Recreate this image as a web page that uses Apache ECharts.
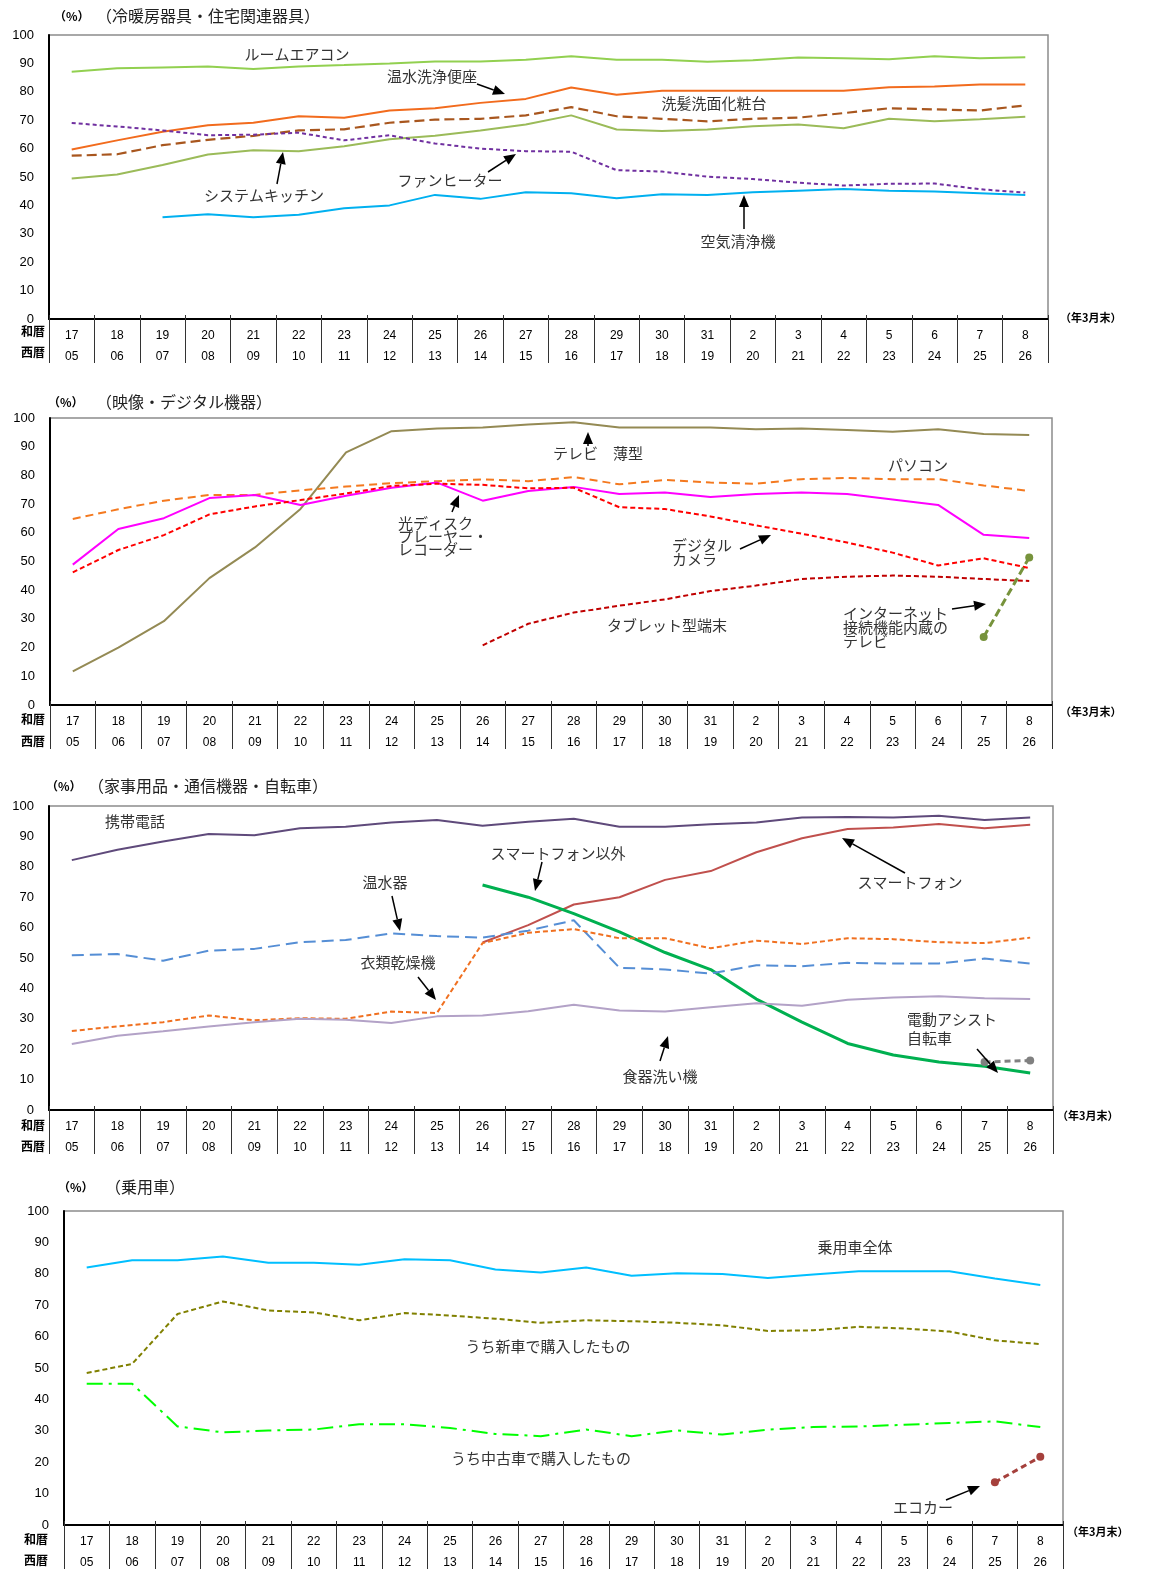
<!DOCTYPE html>
<html><head><meta charset="utf-8">
<script src="https://cdn.jsdelivr.net/npm/echarts@6/dist/echarts.min.js"></script>
<style>html,body{margin:0;padding:0;background:#fff}#c{width:1149px;height:1592px}</style>
</head><body><div id="c"></div>
<script>
// Categories
const wareki = ['17','18','19','20','21','22','23','24','25','26','27','28','29','30','31','2','3','4','5','6','7','8'];
const seireki = ['05','06','07','08','09','10','11','12','13','14','15','16','17','18','19','20','21','22','23','24','25','26'];

// Panel 1 (冷暖房器具・住宅関連器具)
const roomAC   = [87.1,88.3,88.6,88.9,88.0,88.9,89.4,90.0,90.7,90.7,91.3,92.5,91.3,91.3,90.6,91.1,92.1,91.8,91.5,92.5,91.8,92.2];
const washlet  = [59.7,62.9,65.9,68.2,69.1,71.4,70.9,73.4,74.2,76.1,77.5,81.5,79.0,80.4,80.4,80.4,80.4,80.4,81.6,81.9,82.6,82.6];
const vanity   = [57.5,58.0,61.2,63.1,64.5,66.4,66.8,69.1,70.2,70.5,71.7,74.6,71.4,70.5,69.6,70.5,70.9,72.5,74.2,73.8,73.4,75.2];
const kitchen  = [49.5,50.9,54.2,57.9,59.4,59.1,60.8,63.3,64.5,66.4,68.5,71.7,66.7,66.2,66.7,67.9,68.5,67.2,70.5,69.6,70.3,71.2];
const fanHeater= [69.0,67.8,66.4,64.7,64.9,65.6,62.9,64.7,61.8,60.0,59.1,58.9,52.4,51.9,50.1,49.3,48.0,47.0,47.6,47.7,45.7,44.5];
const airPurif = [null,null,35.8,36.9,35.8,36.7,39.0,40.0,43.7,42.3,44.6,44.3,42.5,43.9,43.7,44.6,45.2,45.8,45.2,44.9,44.3,43.7];

// Panel 2 (映像・デジタル機器)
const flatTV   = [11.7,20.0,29.2,44.2,54.9,68.3,88.0,95.4,96.3,96.7,97.7,98.5,96.7,96.7,96.7,96.1,96.3,95.8,95.2,96.1,94.4,94.1];
const pc       = [64.8,68.2,71.2,73.2,73.2,74.8,76.1,77.3,78.0,78.6,78.0,79.4,76.9,78.4,77.5,77.1,78.7,79.1,78.7,78.7,76.5,74.6];
const optical  = [48.9,61.3,65.1,72.1,73.2,69.7,72.9,75.7,77.5,71.2,74.6,76.0,73.5,74.0,72.5,73.5,74.0,73.5,71.6,69.7,59.3,58.2];
const digicam  = [46.2,54.0,59.2,66.4,69.2,71.4,73.7,76.3,77.1,76.7,75.5,75.7,68.9,68.3,65.7,62.6,59.7,56.6,53.1,48.6,51.1,47.7];
const tablet   = [null,null,null,null,null,null,null,null,null,20.8,28.3,32.2,34.6,36.8,39.7,41.6,43.9,44.7,45.1,44.7,43.9,43.2];
const netTV    = [null,null,null,null,null,null,null,null,null,null,null,null,null,null,null,null,null,null,null,null,23.7,51.4];

// Panel 3 (家事用品・通信機器・自転車)
const mobile   = [82.2,85.6,88.3,90.8,90.4,92.7,93.2,94.6,95.4,93.5,94.8,95.8,93.2,93.2,94.0,94.6,96.2,96.4,96.2,96.8,95.4,96.2];
const smart    = [null,null,null,null,null,null,null,null,null,55.1,60.8,67.6,70.0,75.7,78.6,84.8,89.4,92.4,92.9,94.1,92.7,93.8];
const nonSmart = [null,null,null,null,null,null,null,null,null,74.0,70.0,64.6,58.6,51.8,46.2,36.5,28.9,21.9,18.1,15.8,14.4,12.2];
const heater   = [50.9,51.3,49.1,52.4,53.0,55.2,55.9,58.1,57.2,56.7,59.0,62.4,46.8,46.2,44.9,47.6,47.3,48.4,48.2,48.2,49.8,48.2];
const dryer    = [26.0,27.5,28.9,31.1,29.5,30.2,30.0,32.4,31.9,54.9,58.3,59.5,56.5,56.5,53.2,55.7,54.6,56.5,56.2,55.2,54.9,56.7];
const dishwash = [21.7,24.4,25.9,27.5,28.9,30.0,29.7,28.6,30.8,31.1,32.5,34.6,32.7,32.4,33.8,35.1,34.3,36.3,37.0,37.4,36.8,36.5];
const eBike    = [null,null,null,null,null,null,null,null,null,null,null,null,null,null,null,null,null,null,null,null,15.8,16.3];

// Panel 4 (乗用車)
const carAll   = [82.0,84.3,84.3,85.5,83.5,83.5,82.9,84.6,84.3,81.4,80.4,82.0,79.4,80.2,79.9,78.7,79.8,80.8,80.8,80.8,78.5,76.4];
const carNew   = [48.4,51.3,67.2,71.2,68.3,67.7,65.2,67.5,66.7,65.7,64.4,65.2,64.9,64.4,63.6,61.8,62.0,63.1,62.6,61.6,58.8,57.6];
const carUsed  = [45.0,45.0,31.4,29.5,30.1,30.4,32.1,32.1,30.9,29.0,28.3,30.4,28.3,30.1,28.8,30.4,31.2,31.4,31.9,32.5,33.0,31.2];
const ecoCar   = [null,null,null,null,null,null,null,null,null,null,null,null,null,null,null,null,null,null,null,null,13.6,21.7];

const JP = '"Noto Sans CJK JP"';
const NUM = '"Liberation Sans", Arial, sans-serif';

const grids = [
  {left:49, top:35, width:999, height:284},
  {left:50, top:418, width:1002, height:287},
  {left:49, top:806, width:1004, height:304},
  {left:64, top:1211, width:999, height:314}
];

const catLabels = wareki.map((w,i)=>w+'\n'+seireki[i]);
function mkX(gi){
  return {type:'category', gridIndex:gi, boundaryGap:true, data: catLabels,
    axisLine:{lineStyle:{color:'#000',width:2}},
    axisTick:{show:true, interval:0, length:44, lineStyle:{color:'#333',width:1}},
    axisLabel:{interval:0, margin:6, lineHeight:21, fontSize:12, color:'#000', fontFamily:NUM}};
}
// short inner ticks poking above the axis line
function mkXInner(gi){
  return {type:'category', gridIndex:gi, boundaryGap:true, data: catLabels, position:'bottom',
    axisLine:{show:false}, axisLabel:{show:false}, splitLine:{show:false},
    axisTick:{show:true, inside:true, interval:0, length:4, lineStyle:{color:'#333',width:1}}};
}
function mkY(gi){
  return {type:'value', gridIndex:gi, min:0, max:100, interval:10,
    axisLine:{show:true, lineStyle:{color:'#000',width:2}},
    axisTick:{show:false}, splitLine:{show:false},
    axisLabel:{fontSize:13, color:'#000', margin:15, fontFamily:NUM}};
}
function ln(name, data, gi, color, type, width, marker){
  return {name, type:'line', xAxisIndex:gi, yAxisIndex:gi, data,
    showSymbol:!!marker, symbol:'circle', symbolSize:8,
    itemStyle:{color}, connectNulls:false, animation:false,
    lineStyle:{color, width:width||2, type:type||'solid'}};
}

const series = [
  ln('ルームエアコン', roomAC, 0, '#92D050'),
  ln('温水洗浄便座', washlet, 0, '#F26B1D'),
  ln('洗髪洗面化粧台', vanity, 0, '#A8561E', [10,5], 2.2),
  ln('システムキッチン', kitchen, 0, '#9BBB59'),
  ln('ファンヒーター', fanHeater, 0, '#7030A0', [4,3]),
  ln('空気清浄機', airPurif, 0, '#00B0F0'),

  ln('テレビ薄型', flatTV, 1, '#948A54'),
  ln('パソコン', pc, 1, '#F4791F', [8,5]),
  ln('光ディスク', optical, 1, '#FF00FF'),
  ln('デジタルカメラ', digicam, 1, '#FF0000', [5,3]),
  ln('タブレット型端末', tablet, 1, '#C00000', [5,3]),
  ln('インターネット接続機能内蔵のテレビ', netTV, 1, '#77933C', [8,4], 3, true),

  ln('携帯電話', mobile, 2, '#5F4A7B'),
  ln('スマートフォン', smart, 2, '#C0504D'),
  ln('スマートフォン以外', nonSmart, 2, '#00B050', 'solid', 3),
  ln('温水器', heater, 2, '#558ED5', [12,6]),
  ln('衣類乾燥機', dryer, 2, '#F07020', [5,3]),
  ln('食器洗い機', dishwash, 2, '#B3A2C7'),
  ln('電動アシスト自転車', eBike, 2, '#808080', [6,4], 3, true),

  ln('乗用車全体', carAll, 3, '#00BFFF'),
  ln('うち新車で購入したもの', carNew, 3, '#808000', [5,3]),
  ln('うち中古車で購入したもの', carUsed, 3, '#00FF00', [16,6,3,6]),
  ln('エコカー', ecoCar, 3, '#A5403C', [6,4], 3, true)
];

// annotations
const G = [];
function txt(s, x, y, opt){
  opt = opt || {};
  G.push({type:'text', x, y, z:100, style:{text:s, fill:opt.color||'#333',
    font:(opt.weight||'normal')+' '+(opt.size||15)+'px '+(opt.family||JP),
    align:opt.align||'center', textAlign:opt.align||'center',
    verticalAlign:'middle', textVerticalAlign:'middle', lineHeight:opt.lh||17}});
}
function arrow(x1,y1,x2,y2){
  const a = Math.atan2(y2-y1, x2-x1), L=12, W=5;
  const bx = x2 - L*Math.cos(a), by = y2 - L*Math.sin(a);
  G.push({type:'line', z:100, shape:{x1,y1,x2:bx,y2:by}, style:{stroke:'#000', lineWidth:1.5}});
  G.push({type:'polygon', z:100, shape:{points:[[x2,y2],[bx+W*Math.sin(a), by-W*Math.cos(a)],[bx-W*Math.sin(a), by+W*Math.cos(a)]]}, style:{fill:'#000'}});
}
// titles
const titles = [
  [54,16,'（冷暖房器具・住宅関連器具）',96],
  [48,402,'（映像・デジタル機器）',96],
  [46,786,'（家事用品・通信機器・自転車）',88],
  [58,1187,'（乗用車）',105]
];
titles.forEach(t=>{
  txt('（%）', t[0], t[1], {align:'left', size:12, weight:'bold', color:'#000'});
  txt(t[2], t[3], t[1], {align:'left', size:16, color:'#222'});
});
// axis side labels
[[331,352,1060,318],[719,741,1060,712],[1125,1146,1057,1116],[1539,1560,1067,1532]].forEach((r,i)=>{
  const lx = i===3 ? 48 : 45;
  txt('和暦', lx, r[0], {align:'right', size:12, weight:'bold', color:'#000'});
  txt('西暦', lx, r[1], {align:'right', size:12, weight:'bold', color:'#000'});
  txt('（年3月末）', r[2], r[3], {align:'left', size:11, weight:'bold', color:'#000'});
});
// panel 1
txt('ルームエアコン', 297, 54);
txt('温水洗浄便座', 432, 76); arrow(477,84,505,94);
txt('洗髪洗面化粧台', 714, 103);
txt('システムキッチン', 264, 195); arrow(277,184,283,152);
txt('ファンヒーター', 450, 180); arrow(488,172,516,154);
txt('空気清浄機', 738, 241); arrow(744,229,744,195);
// panel 2
txt('テレビ　薄型', 598, 453); arrow(588,446,588,432);
txt('パソコン', 918, 465);
txt('光ディスク\nプレーヤー・\nレコーダー', 398, 536, {align:'left', lh:13});
arrow(452,512,459,495);
txt('デジタル\nカメラ', 672, 552, {align:'left', lh:14}); arrow(740,549,771,535);
txt('タブレット型端末', 667, 625);
txt('インターネット\n接続機能内蔵の\nテレビ', 843, 627, {align:'left', lh:14}); arrow(952,609,986,604);
// panel 3
txt('携帯電話', 135, 821);
txt('スマートフォン以外', 558, 853); arrow(542,862,535,891);
txt('温水器', 385, 882); arrow(392,896,400,931);
txt('衣類乾燥機', 398, 962); arrow(418,977,436,1000);
txt('スマートフォン', 910, 882); arrow(905,873,842,838);
txt('食器洗い機', 660, 1076); arrow(660,1061,668,1036);
txt('電動アシスト\n自転車', 907, 1029, {align:'left', lh:19}); arrow(977,1049,998,1073);
// panel 4
txt('乗用車全体', 855, 1247);
txt('うち新車で購入したもの', 548, 1346);
txt('うち中古車で購入したもの', 541, 1458);
txt('エコカー', 923, 1507); arrow(946,1500,980,1486);

const chart = echarts.init(document.getElementById('c'), null, {renderer:'canvas'});
chart.setOption({
  animation:false,
  backgroundColor:'#fff',
  grid: grids.map(g=>Object.assign({show:true, borderColor:'#8c8c8c', borderWidth:1.5, backgroundColor:'transparent'}, g)),
  xAxis: [0,1,2,3].map(mkX).concat([0,1,2,3].map(mkXInner)),
  yAxis: [0,1,2,3].map(mkY),
  series,
  graphic: G
});
</script></body></html>
